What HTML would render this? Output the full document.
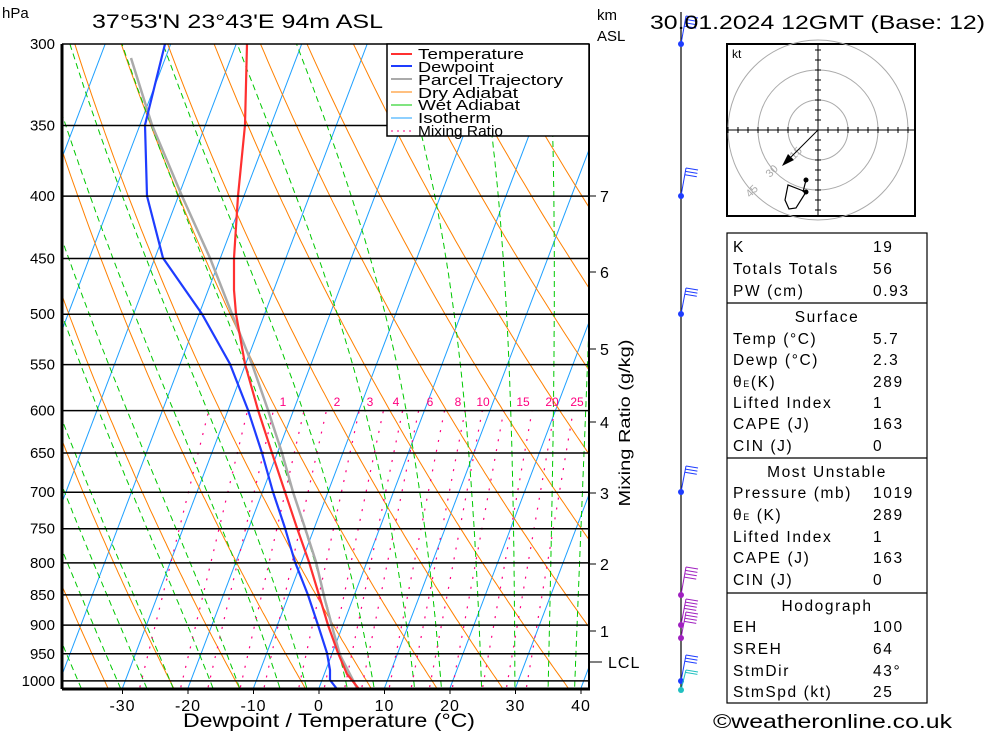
<!DOCTYPE html>
<html><head><meta charset="utf-8"><style>
body{margin:0;background:#fff;width:1000px;height:733px;overflow:hidden}
svg{font-family:"Liberation Sans",sans-serif}
</style></head><body>
<svg id="s" width="1000" height="733" xmlns="http://www.w3.org/2000/svg">
<defs><clipPath id="c"><rect x="62" y="44" width="527" height="645"/></clipPath></defs>
<g id="bg" clip-path="url(#c)"></g>
<g id="fg" clip-path="url(#c)"></g>
<g id="ax"></g>
</svg>
<script>
var NS="http://www.w3.org/2000/svg";
function Y(p){return 44+529*(Math.log(p)-Math.log(300));}
function X(T,p){return 319+6.55*T+0.38*(688-Y(p));}
function add(g,tag,at,txt){var e=document.createElementNS(NS,tag);for(var k in at)e.setAttribute(k,at[k]);if(txt!=null)e.textContent=txt;document.getElementById(g).appendChild(e);return e;}
function pl(g,pts,st){add(g,'polyline',Object.assign({points:pts.map(function(q){return q[0].toFixed(1)+','+q[1].toFixed(1)}).join(' '),fill:'none'},st));}
var ps=[];for(var p=1050;p>=290;p-=5)ps.push(p);
for(var T=-120;T<=50;T+=10){pl('bg',[[X(T,1050),Y(1050)],[X(T,290),Y(290)]],{stroke:'#1ea0ff','stroke-width':1});}
for(var th=230;th<=500;th+=10){pl('bg',ps.map(function(p){var t=th*Math.pow(p/1000,0.2857)-273.15;return [X(t,p),Y(p)]}),{stroke:'#ff8000','stroke-width':1});}
function es(t){return 6.112*Math.exp(17.67*t/(t+243.5));}
var wl=[-40,-34,-28,-24,-20,-14,-10,-4,0,6,10,16,20,26,31,36,40,44];
wl.forEach(function(t0){var t=t0+273.15,pts=[];for(var p=1050;p>=290;p-=2){pts.push([X(t-273.15,p),Y(p)]);var e=es(t-273.15),rs=0.622*e/(p-e);var d=(287*t+2.5e6*rs)/(p*(1004+2.5e6*2.5e6*rs*0.622/(287*t*t)));t-=d*2;}
pl('bg',pts,{stroke:'#00c800','stroke-width':1,'stroke-dasharray':'6,4'});});
function td(w,p){var e=w*p/(622+w),l=Math.log(e/6.112);return 243.5*l/(17.67-l);}
[0.4,0.7,1,1.5,2,3,4,5,6,8,10,12,15,20,25,30].forEach(function(w){pl('bg',[[X(td(w,1050),1050),Y(1050)],[X(td(w,600),600),Y(600)]],{stroke:'#ff0080','stroke-width':1.2,'stroke-dasharray':'2,8'});});
[['1',283],['2',337],['3',370],['4',396],['6',430],['8',458],['10',483],['15',523],['20',552],['25',577]].forEach(function(a){add('fg','text',{x:a[1],y:406,'font-size':12,fill:'#ff0080','text-anchor':'middle'},a[0]);});
[300,350,400,450,500,550,600,650,700,750,800,850,900,950,1000].forEach(function(p){var y=Y(p);add('ax','line',{x1:62,x2:589,y1:y,y2:y,stroke:'#000','stroke-width':1.5});add('ax','text',{x:55,y:y+5,'font-size':15,'text-anchor':'end'},String(p));});
pl('fg',[[357,688],[340,655],[333,630],[325,600],[316,562],[305,528],[293,492],[282,453],[268,410],[252,364],[232,314],[210,258],[182,196],[152,125],[131,58]],{stroke:'#aaa','stroke-width':2.5});
pl('fg',[[337,689],[330,680],[330,670],[327,653],[318,625],[308,595],[295,562],[285,528],[273,492],[262,453],[248,410],[230,364],[202,314],[163,258],[147,196],[145,125],[165,44]],{stroke:'#1e3cff','stroke-width':2.2});
pl('fg',[[359,689],[347,674],[338,653],[328,625],[319,595],[309,562],[297,528],[285,492],[272,453],[258,410],[245,364],[236,314],[234,290],[234,258],[238,196],[245,125],[247,44]],{stroke:'#ff3030','stroke-width':2.2});
add('ax','line',{x1:62,x2:62,y1:44,y2:689,stroke:'#000','stroke-width':3});
add('ax','line',{x1:62,x2:590,y1:689,y2:689,stroke:'#000','stroke-width':3});
add('ax','line',{x1:589,x2:589,y1:44,y2:689,stroke:'#000','stroke-width':2});
[-30,-20,-10,0,10,20,30,40].forEach(function(t){var x=319+6.55*t;add('ax','line',{x1:x,x2:x,y1:689,y2:694,stroke:'#000'});add('ax','text',{x:x,y:711,'font-size':16,'text-anchor':'middle','letter-spacing':1},String(t));});
[['7',196],['6',272],['5',349],['4',422],['3',493],['2',564],['1',631],['LCL',662]].forEach(function(a){add('ax','line',{x1:589,x2:a[0]=='LCL'?602:596,y1:a[1],y2:a[1],stroke:'#000'});add('ax','text',{x:a[0]=='LCL'?608:600,y:a[1]+6,'font-size':16,'letter-spacing':1},a[0]);});
add('ax','line',{x1:681,x2:681,y1:12,y2:690,stroke:'#000','stroke-width':1.2});
function barb(y,col,n,top){var x0=681,x1=top?686:694,y1=y-top;add('ax','line',{x1:x0,y1:y,x2:x1,y2:y1,stroke:col});for(var i=0;i<n;i++){var xx=x1-(x1-x0)*i*0.12,yy=y1+(y-y1)*i*0.12;add('ax','line',{x1:xx,y1:yy,x2:xx+12,y2:yy+2,stroke:col});}add('ax','circle',{cx:681,cy:y,r:3,fill:col});}
barb(44,'#1e3cff',4,28);barb(196,'#1e3cff',3,28);barb(314,'#1e3cff',3,26);barb(492,'#1e3cff',3,26);
barb(595,'#a020c0',4,28);barb(625,'#a020c0',4,26);barb(638,'#a020c0',4,26);barb(681,'#1e3cff',3,26);barb(690,'#20c0c0',2,20);
</script>
<svg width="1000" height="733" style="position:absolute;left:0;top:0" xmlns="http://www.w3.org/2000/svg" font-family="Liberation Sans, sans-serif">
<text x="2" y="18" font-size="15">hPa</text>
<text x="92" y="28" font-size="19" textLength="291" lengthAdjust="spacingAndGlyphs">37°53'N  23°43'E  94m  ASL</text>
<text x="650" y="29" font-size="19" textLength="335" lengthAdjust="spacingAndGlyphs">30.01.2024  12GMT  (Base: 12)</text>
<text x="597" y="20" font-size="15">km</text>
<text x="597" y="41" font-size="15">ASL</text>
<text x="183" y="727" font-size="19" textLength="292" lengthAdjust="spacingAndGlyphs">Dewpoint / Temperature (°C)</text>
<text x="630" y="423" font-size="16" transform="rotate(-90 630 423)" text-anchor="middle" textLength="167" lengthAdjust="spacingAndGlyphs">Mixing Ratio (g/kg)</text>
<text x="713" y="728" font-size="19" textLength="239" lengthAdjust="spacingAndGlyphs">©weatheronline.co.uk</text>
<rect x="387" y="44" width="202" height="92" fill="#fff" stroke="#000" stroke-width="1.5"/>
<g font-size="14.5" lengthAdjust="spacingAndGlyphs">
<line x1="391" y1="54" x2="412" y2="54" stroke="#ff3030" stroke-width="2"/><text x="418" y="59" textLength="106" lengthAdjust="spacingAndGlyphs">Temperature</text>
<line x1="391" y1="66" x2="412" y2="66" stroke="#1e3cff" stroke-width="2"/><text x="418" y="72" textLength="76" lengthAdjust="spacingAndGlyphs">Dewpoint</text>
<line x1="391" y1="79" x2="412" y2="79" stroke="#aaa" stroke-width="2"/><text x="418" y="85" textLength="145" lengthAdjust="spacingAndGlyphs">Parcel Trajectory</text>
<line x1="391" y1="92" x2="412" y2="92" stroke="#ff8000"/><text x="418" y="98" textLength="100" lengthAdjust="spacingAndGlyphs">Dry Adiabat</text>
<line x1="391" y1="105" x2="412" y2="105" stroke="#00c800"/><text x="418" y="110" textLength="102" lengthAdjust="spacingAndGlyphs">Wet Adiabat</text>
<line x1="391" y1="118" x2="412" y2="118" stroke="#1ea0ff"/><text x="418" y="123" textLength="73" lengthAdjust="spacingAndGlyphs">Isotherm</text>
<line x1="391" y1="131" x2="412" y2="131" stroke="#ff0080" stroke-dasharray="2,4"/><text x="418" y="136" textLength="85" lengthAdjust="spacingAndGlyphs">Mixing Ratio</text>
</g>
<rect x="727" y="44" width="188" height="172" fill="#fff" stroke="#000" stroke-width="2"/>
<g fill="none" stroke="#aaa"><circle cx="818" cy="130" r="30"/><circle cx="818" cy="130" r="60"/><circle cx="818" cy="130" r="90"/></g>
<line x1="727" y1="130" x2="915" y2="130" stroke="#000"/><line x1="818" y1="44" x2="818" y2="216" stroke="#000"/>
<g stroke="#000"><path d="M728 127v6M738 127v6M748 127v6M758 127v6M768 127v6M778 127v6M788 127v6M798 127v6M808 127v6M828 127v6M838 127v6M848 127v6M858 127v6M868 127v6M878 127v6M888 127v6M898 127v6M908 127v6M815 50h6M815 60h6M815 70h6M815 80h6M815 90h6M815 100h6M815 110h6M815 120h6M815 140h6M815 150h6M815 160h6M815 170h6M815 180h6M815 190h6M815 200h6M815 210h6"/></g>
<text x="732" y="58" font-size="12">kt</text>
<g fill="#aaa" font-size="11"><text x="794" y="160" transform="rotate(-45 794 160)">15</text><text x="770" y="178" transform="rotate(-45 770 178)">30</text><text x="750" y="198" transform="rotate(-45 750 198)">45</text></g>
<line x1="818" y1="130" x2="786" y2="162" stroke="#000"/><polygon points="782,166 788,154 794,160" fill="#000"/>
<path d="M806 192 L788 185 L785 200 L789 209 L796 208 Z M806 180 L803 192" fill="none" stroke="#000" stroke-width="1.2"/>
<circle cx="806" cy="180" r="2.5"/><circle cx="806" cy="192" r="2.5"/>
<g fill="none" stroke="#000" stroke-width="1.2"><rect x="727" y="233" width="200" height="470"/><line x1="727" y1="303" x2="927" y2="303"/><line x1="727" y1="458" x2="927" y2="458"/><line x1="727" y1="593" x2="927" y2="593"/></g>
<g font-size="15.5" letter-spacing="1.6">
<text x="733" y="252">K</text><text x="873" y="252">19</text>
<text x="733" y="274">Totals Totals</text><text x="873" y="274">56</text>
<text x="733" y="296">PW (cm)</text><text x="873" y="296">0.93</text>
<text x="827" y="322" text-anchor="middle">Surface</text>
<text x="733" y="344">Temp (°C)</text><text x="873" y="344">5.7</text>
<text x="733" y="365">Dewp (°C)</text><text x="873" y="365">2.3</text>
<text x="733" y="387">θ<tspan font-size="9">E</tspan>(K)</text><text x="873" y="387">289</text>
<text x="733" y="408">Lifted Index</text><text x="873" y="408">1</text>
<text x="733" y="429">CAPE (J)</text><text x="873" y="429">163</text>
<text x="733" y="451">CIN (J)</text><text x="873" y="451">0</text>
<text x="827" y="477" text-anchor="middle">Most Unstable</text>
<text x="733" y="498">Pressure (mb)</text><text x="873" y="498">1019</text>
<text x="733" y="520">θ<tspan font-size="9">E</tspan> (K)</text><text x="873" y="520">289</text>
<text x="733" y="542">Lifted Index</text><text x="873" y="542">1</text>
<text x="733" y="563">CAPE (J)</text><text x="873" y="563">163</text>
<text x="733" y="585">CIN (J)</text><text x="873" y="585">0</text>
<text x="827" y="611" text-anchor="middle">Hodograph</text>
<text x="733" y="632">EH</text><text x="873" y="632">100</text>
<text x="733" y="654">SREH</text><text x="873" y="654">64</text>
<text x="733" y="676">StmDir</text><text x="873" y="676">43°</text>
<text x="733" y="697">StmSpd (kt)</text><text x="873" y="697">25</text>
</g>
</svg>
</body></html>
